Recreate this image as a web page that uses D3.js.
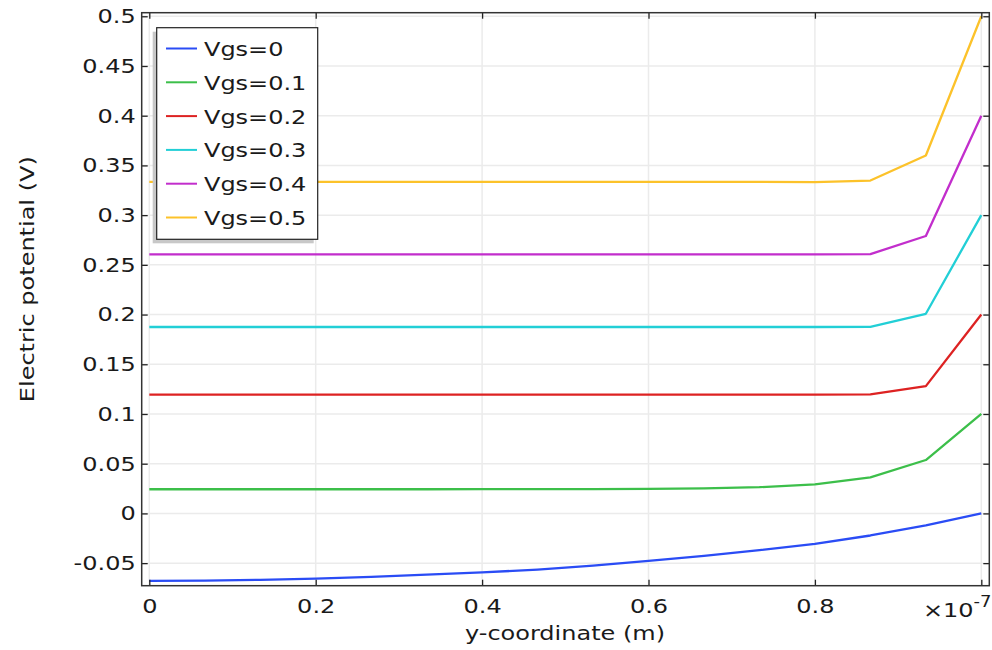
<!DOCTYPE html>
<html><head><meta charset="utf-8">
<script src="https://cdn.jsdelivr.net/npm/d3@7"></script>
<style>body{margin:0;background:#fff;}svg{display:block;font-family:"DejaVu Sans",sans-serif;}
.sx{transform-box:fill-box;transform:scaleX(1.2);}
</style>
</head><body><svg id="c" width="992" height="650"></svg>
<script>
const xs = d3.range(16).map(k => k / 15); // y-coordinate in units of 1e-7 m
const seriesNames = ["Vgs=0","Vgs=0.1","Vgs=0.2","Vgs=0.3","Vgs=0.4","Vgs=0.5"];
const colors = ["#2a4cf5","#3cbf4a","#dd2222","#22cfd6","#c22ecc","#fcc22a"];
const v0  = [-0.0678,-0.0675,-0.0668,-0.0656,-0.0638,-0.0616,-0.0593,-0.0565,-0.0525,-0.0477,-0.0428,-0.0370,-0.0306,-0.0222,-0.0121,0.0];
const v01 = [0.0243,0.0243,0.0243,0.0243,0.0243,0.0243,0.0244,0.0244,0.0245,0.0247,0.0252,0.0264,0.0292,0.0362,0.0537,0.1];
const v02 = [0.1195,0.1195,0.1195,0.1195,0.1195,0.1195,0.1195,0.1195,0.1195,0.1195,0.1195,0.1195,0.1195,0.1197,0.128,0.2];
const v03 = [0.1875,0.1875,0.1875,0.1875,0.1875,0.1875,0.1875,0.1875,0.1875,0.1875,0.1875,0.1875,0.1875,0.1876,0.2008,0.3];
const v04 = [0.2605,0.2605,0.2605,0.2605,0.2605,0.2605,0.2605,0.2605,0.2605,0.2605,0.2605,0.2605,0.2605,0.2607,0.279,0.4];
const v05 = [0.3335,0.3335,0.3335,0.3335,0.3335,0.3335,0.3335,0.3335,0.3335,0.3335,0.3335,0.3334,0.3333,0.3348,0.36,0.5];
const seriesValues = [v0,v01,v02,v03,v04,v05];
const xTicks = [0,0.2,0.4,0.6,0.8];
const yTicks = [-0.05,0,0.05,0.1,0.15,0.2,0.25,0.3,0.35,0.4,0.45,0.5];

const svg = d3.select("#c");
const L = 141.7, R = 989.3, T = 12.7, B = 585.7;
const x = d3.scaleLinear().domain([-0.00913, 1.0096]).range([L, R]);
const y = d3.scaleLinear().domain([-0.0727, 0.5036]).range([B, T]);
const fmt = d => String(+d.toFixed(3)).replace("−", "-");

// grid
const g = svg.append("g");
g.selectAll(".gx").data(xTicks.concat([1])).enter().append("line")
  .attr("x1", d => x(d)).attr("x2", d => x(d)).attr("y1", T).attr("y2", B)
  .attr("stroke", "#ebebeb").attr("stroke-width", 1.5);
g.selectAll(".gy").data(yTicks).enter().append("line")
  .attr("y1", d => y(d)).attr("y2", d => y(d)).attr("x1", L).attr("x2", R)
  .attr("stroke", "#ebebeb").attr("stroke-width", 1.5);

// lines
const line = d3.line().x((d, i) => x(xs[i])).y(d => y(d));
seriesValues.forEach((vals, i) => {
  svg.append("path").datum(vals).attr("d", line).attr("fill", "none")
    .attr("stroke", colors[i]).attr("stroke-width", 2.3).attr("stroke-linejoin", "round");
});

// axes
const fs = "20px";
const ax = svg.append("g").attr("transform", `translate(0,${B})`)
  .call(d3.axisBottom(x).tickValues(xTicks.concat([1])).tickSizeInner(-6).tickSizeOuter(0).tickPadding(13)
    .tickFormat(d => d === 1 ? "" : fmt(d)));
ax.select(".domain").remove();
ax.selectAll(".tick text").attr("class", "sx").style("transform-origin", "center");
const ay = svg.append("g").attr("transform", `translate(${L},0)`)
  .call(d3.axisLeft(y).tickValues(yTicks).tickSizeInner(-6).tickSizeOuter(0).tickPadding(6).tickFormat(fmt));
ay.select(".domain").remove();
ay.selectAll(".tick text").attr("class", "sx").style("transform-origin", "right center");
const axT = svg.append("g").attr("transform", `translate(0,${T})`)
  .call(d3.axisTop(x).tickValues(xTicks.concat([1])).tickSizeInner(-6).tickSizeOuter(0).tickFormat(""));
axT.select(".domain").remove();
const ayR = svg.append("g").attr("transform", `translate(${R},0)`)
  .call(d3.axisRight(y).tickValues(yTicks).tickSizeInner(-6).tickSizeOuter(0).tickFormat(""));
ayR.select(".domain").remove();
svg.selectAll(".tick line").attr("stroke", "#222").attr("stroke-width", 1.3);
svg.selectAll(".tick text").attr("font-size", fs).attr("fill", "#1a1a1a").attr("font-family", "DejaVu Sans");

svg.append("rect").attr("x", L).attr("y", T).attr("width", R - L).attr("height", B - T)
  .attr("fill", "none").attr("stroke", "#333").attr("stroke-width", 1.5);

// exponent
const ex = svg.append("text").attr("x", 923).attr("y", 617).attr("font-size", fs).attr("fill", "#1a1a1a")
  .attr("class", "sx").style("transform-origin", "left center");
ex.append("tspan").text("×10");
ex.append("tspan").attr("dy", -10).attr("font-size", "15px").text("-7");

// axis titles
svg.append("text").attr("x", 565).attr("y", 640).attr("text-anchor", "middle")
  .attr("font-size", fs).attr("fill", "#1a1a1a").attr("class", "sx").style("transform-origin", "center")
  .text("y-coordinate (m)");
svg.append("text").attr("transform", `translate(34,${(T + B) / 2 - 20}) rotate(-90) scale(1.2,1)`).attr("text-anchor", "middle")
  .attr("font-size", fs).attr("fill", "#1a1a1a").text("Electric potential (V)");

// legend
const lx = 156.7, ly = 27.7, lw = 161, lh = 211.6;
svg.append("rect").attr("x", lx - 4).attr("y", ly + 4).attr("width", lw).attr("height", lh).attr("fill", "#c8c8c8");
svg.append("rect").attr("x", lx).attr("y", ly).attr("width", lw).attr("height", lh).attr("fill", "#fff")
  .attr("stroke", "#222").attr("stroke-width", 1.2);
seriesNames.forEach((n, i) => {
  const cy = 48.5 + i * 33.8;
  svg.append("line").attr("x1", 166).attr("x2", 197).attr("y1", cy).attr("y2", cy)
    .attr("stroke", colors[i]).attr("stroke-width", 2);
  svg.append("text").attr("x", 204).attr("y", cy + 7.5).attr("font-size", fs).attr("fill", "#1a1a1a")
    .attr("class", "sx").style("transform-origin", "left center").text(n);
});
</script></body></html>
